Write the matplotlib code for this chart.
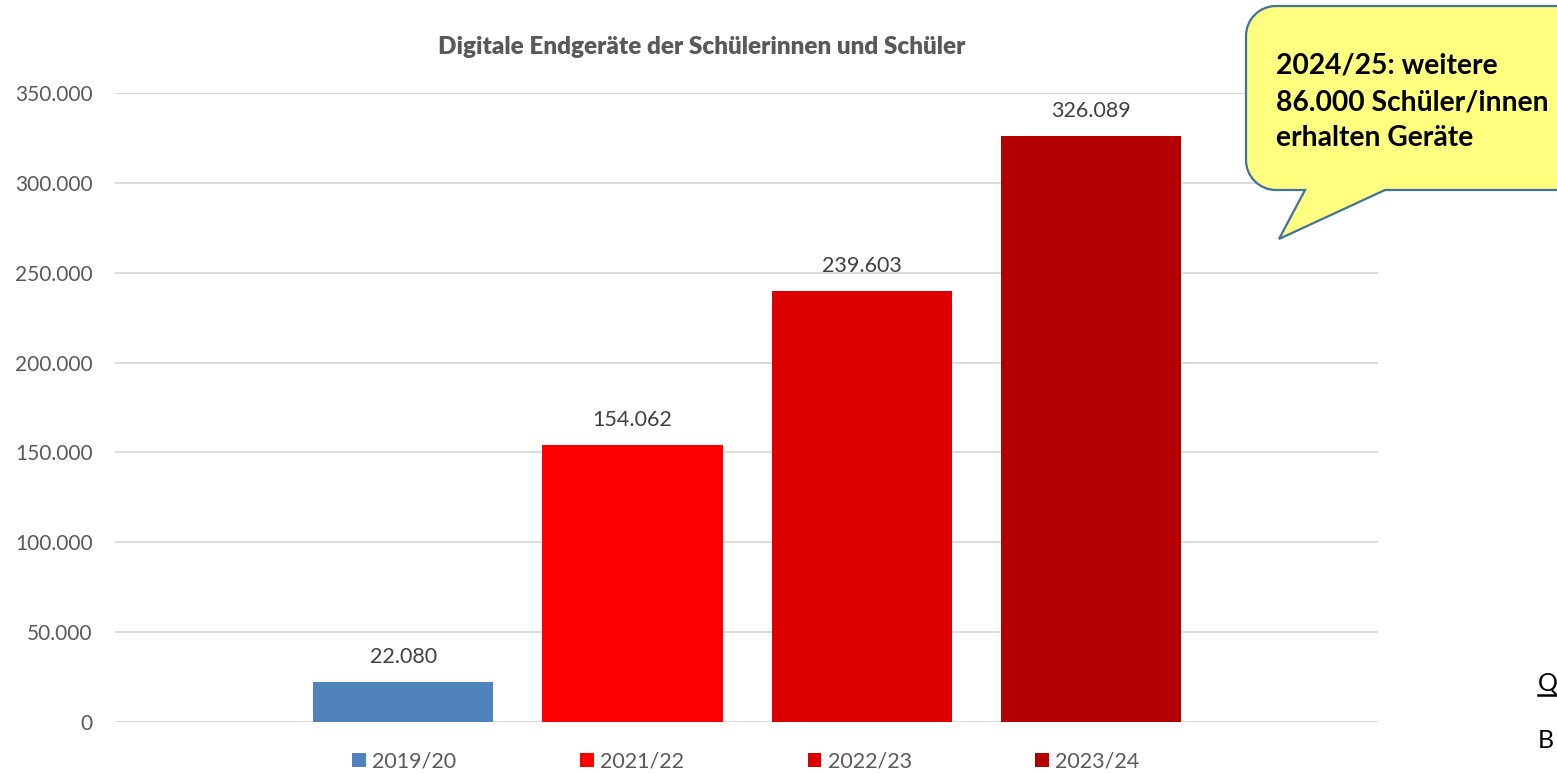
import matplotlib
matplotlib.use("Agg")
import matplotlib.pyplot as plt
from matplotlib.path import Path
from matplotlib.patches import PathPatch, Patch
from matplotlib.lines import Line2D

plt.rcParams['font.family'] = ['Lato', 'DejaVu Sans']

categories = ["2019/20", "2021/22", "2022/23", "2023/24"]
values = [22080, 154062, 239603, 326089]
colors = ["#4F81BD", "#FF0000", "#DC0000", "#B40000"]
yticks = [0, 50000, 100000, 150000, 200000, 250000, 300000, 350000]
title = "Digitale Endgeräte der Schülerinnen und Schüler"
callout = "2024/25: weitere\n86.000 Schüler/innen\nerhalten Geräte"

def de(v):
    return f"{v:,}".replace(",", ".")

W, H = 1557, 773
fig = plt.figure(figsize=(W/100, H/100), dpi=100)
ax = fig.add_axes([115/W, 51/H, (1378-115)/W, (722-93)/H])

x = list(range(len(values)))
bars = ax.bar(x, values, width=0.786, color=colors, zorder=3)
for xi, v in zip(x, values):
    ax.annotate(de(v), (xi, v), xytext=(0, 11), textcoords="offset points",
                ha="center", va="bottom", fontsize=15.5, color="#404040")

ax.set_xlim(-1.258, 4.253)
ax.set_ylim(0, 350000)
ax.set_yticks(yticks)
ax.set_yticklabels([de(t) for t in yticks], fontsize=15, color="#595959")
ax.set_xticks([])
ax.tick_params(axis="y", length=0, pad=16)
for s in ax.spines.values():
    s.set_visible(False)
ax.grid(axis="y", color="#D9D9D9", linewidth=1.3, zorder=0)
ax.set_axisbelow(True)

fig.text(702/W, 1 - 47/H, title, ha="center", va="center", fontsize=17.5,
         fontweight="heavy", color="#595959")

handles = [Patch(facecolor=c, edgecolor="none") for c in colors]
leg = fig.legend(handles, categories, loc="center", bbox_to_anchor=(746/W, 1 - 762/H),
                 ncol=4, frameon=False, fontsize=15.5, handlelength=0.62, handleheight=0.62,
                 handletextpad=0.3, columnspacing=5.75, borderpad=0)
for t in leg.get_texts():
    t.set_color("#595959")

# speech bubble in figure pixel coords
L, R, T, B = 1246, 1585, H - 6, H - 190
r = 30
k = 0.5523 * r
tip = (1279, H - 239)
t1, t2 = 1305, 1385
verts = [
    (L + r, T), (R - r, T),
    (R - r + k, T), (R, T - r + k), (R, T - r),
    (R, B + r),
    (R, B + r - k), (R - r + k, B), (R - r, B),
    (t2, B), tip, (t1, B),
    (L + r, B),
    (L + r - k, B), (L, B + r - k), (L, B + r),
    (L, T - r),
    (L, T - r + k), (L + r - k, T), (L + r, T),
    (L + r, T),
]
codes = [Path.MOVETO, Path.LINETO,
         Path.CURVE4, Path.CURVE4, Path.CURVE4,
         Path.LINETO,
         Path.CURVE4, Path.CURVE4, Path.CURVE4,
         Path.LINETO, Path.LINETO, Path.LINETO,
         Path.LINETO,
         Path.CURVE4, Path.CURVE4, Path.CURVE4,
         Path.LINETO,
         Path.CURVE4, Path.CURVE4, Path.CURVE4,
         Path.CLOSEPOLY]
fverts = [(vx / W, vy / H) for vx, vy in verts]
bubble = PathPatch(Path(fverts, codes), transform=fig.transFigure, facecolor="#FFFF80",
                   edgecolor="#41719C", linewidth=1.6, zorder=5)
fig.patches.append(bubble)
fig.text(1276/W, 1 - 102/H, callout, ha="left", va="center", fontsize=20.3,
         fontweight="bold", color="black", linespacing=1.5, zorder=6)

# partially visible slide text at the right edge
fig.text(1538/W, 1 - 683/H, "Q", ha="left", va="center", fontsize=18, color="black")
fig.lines.append(Line2D([1538/W, 1556/W], [1 - 695/H, 1 - 695/H], transform=fig.transFigure,
                        color="black", linewidth=1.8))
fig.text(1538/W, 1 - 740/H, "B", ha="left", va="center", fontsize=18, color="black")

fig.savefig("out.png", dpi=100)
